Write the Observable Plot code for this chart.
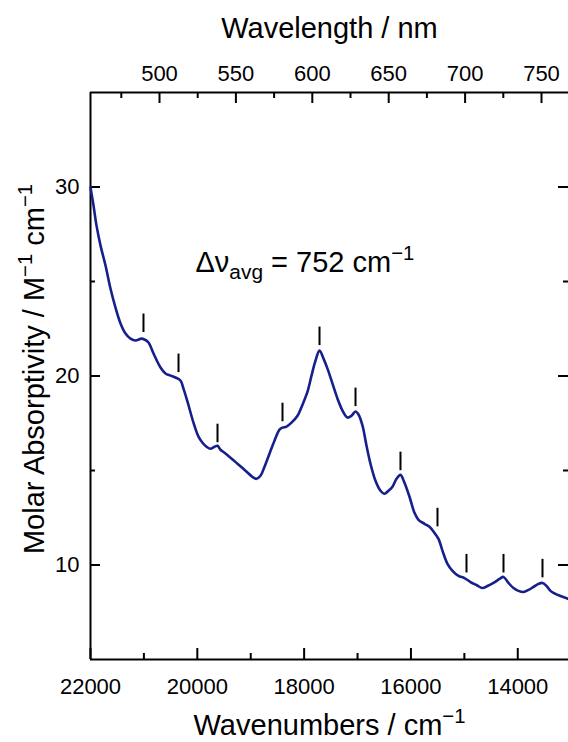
<!DOCTYPE html>
<html>
<head>
<meta charset="utf-8">
<script src="https://cdn.jsdelivr.net/npm/d3@7"></script>
<script src="https://cdn.jsdelivr.net/npm/@observablehq/plot@0.6"></script>
<style>
  body { margin: 0; background: #fff; }
  svg { display: block; }
</style>
</head>
<body>
<div id="chart"></div>
<script>
// ---- Data ----
const wavenumbers = [22000,21944,21888,21813,21719,21626,21532,21438,21345,21251,21157,21045,20989,20914,20820,20689,20596,20502,20409,20315,20259,20184,20072,19978,19903,19828,19753,19678,19622,19566,19491,19379,19248,19098,18948,18892,18817,18742,18649,18555,18461,18405,18330,18237,18124,18031,17937,17862,17787,17712,17637,17563,17469,17375,17282,17188,17113,17038,16982,16907,16832,16758,16664,16570,16495,16421,16346,16271,16196,16121,16027,15934,15859,15747,15653,15560,15484,15409,15316,15222,15110,14998,14885,14773,14661,14567,14455,14342,14267,14174,14080,13987,13893,13799,13706,13612,13537,13462,13387,13294,13200,13106,13050];
const absorptivity = [29.98,29.03,27.97,26.91,25.85,24.63,23.62,22.78,22.25,21.98,21.88,21.98,21.93,21.77,21.19,20.45,20.13,20.02,19.92,19.76,19.33,18.64,17.53,16.79,16.47,16.26,16.15,16.26,16.31,16.10,15.94,15.68,15.36,14.99,14.62,14.56,14.72,15.20,15.89,16.58,17.16,17.27,17.32,17.53,17.90,18.48,19.17,20.02,20.81,21.35,20.92,20.39,19.60,18.80,18.17,17.80,17.90,18.12,17.96,17.37,16.31,15.36,14.46,13.93,13.77,13.93,14.14,14.56,14.77,14.35,13.61,12.76,12.39,12.18,12.02,11.70,11.38,10.75,10.06,9.69,9.42,9.31,9.10,8.94,8.78,8.89,9.05,9.26,9.37,9.05,8.78,8.63,8.57,8.68,8.84,9.00,9.05,8.89,8.63,8.47,8.36,8.26,8.20];

// vibronic progression markers
const peakWavenumbers = [21008,20352,19622,18405,17712,17038,16196,15503,14960,14267,13537];
const peakMarkerBase  = [22.30,20.18,16.47,17.58,21.61,18.38,14.99,12.02,9.58,9.58,9.32];

const xTicksMajor = [22000,20000,18000,16000,14000];
const xTicksMinor = [21000,19000,17000,15000];
const yTicksMajor = [10,20,30];
const yTicksMinor = [15,25];
const nmTicksMajor = [500,550,600,650,700,750];
const nmTicksMinor = [475,525,575,625,675,725];

const xDomain = [22000, 13050];
const yDomain = [5, 35];

// linear wavelength axis as drawn on top of the reference
const nmToWn = nm => 20708 - (nm - 500) * 28.61;
const nmLabel = new Map(nmTicksMajor.map(n => [nmToWn(n), n]));

// ---- Layout ----
const W = 568, H = 742;
const mL = 90, mR = 0, mT = 92, mB = 83;
const plotW = W - mL - mR, plotH = H - mT - mB;
const navy = "#16208c";
const font = "'Liberation Sans', Arial, Helvetica, sans-serif";

const spectrum = wavenumbers.map((w, i) => ({w, a: absorptivity[i]}));
const peaks = peakWavenumbers.map((w, i) => ({w, b: peakMarkerBase[i]}));

const chart = Plot.plot({
  width: W, height: H,
  marginLeft: mL, marginRight: mR, marginTop: mT, marginBottom: mB,
  style: {fontFamily: font, color: "#000", background: "#fff", overflow: "visible"},
  x: {domain: xDomain, axis: null},
  y: {domain: yDomain, axis: null},
  marks: [
    // frame (left, top, bottom)
    Plot.ruleX([xDomain[0]], {stroke: "#000", strokeWidth: 2}),
    Plot.ruleY(yDomain, {stroke: "#000", strokeWidth: 2}),
    // bottom ticks (inward)
    Plot.tickX(xTicksMajor, {x: d => d, insetTop: plotH - 11, stroke: "#000", strokeWidth: 2}),
    Plot.tickX(xTicksMinor, {x: d => d, insetTop: plotH - 6, stroke: "#000", strokeWidth: 2}),
    // top ticks (inward)
    Plot.tickX(nmTicksMajor.map(nmToWn), {x: d => d, insetBottom: plotH - 11, stroke: "#000", strokeWidth: 2}),
    Plot.tickX(nmTicksMinor.map(nmToWn), {x: d => d, insetBottom: plotH - 6, stroke: "#000", strokeWidth: 2}),
    // left ticks
    Plot.tickY(yTicksMajor, {y: d => d, insetRight: plotW - 10, stroke: "#000", strokeWidth: 2}),
    Plot.tickY(yTicksMinor, {y: d => d, insetRight: plotW - 5, stroke: "#000", strokeWidth: 2}),
    // right ticks
    Plot.tickY(yTicksMajor, {y: d => d, insetLeft: plotW - 10, stroke: "#000", strokeWidth: 2}),
    Plot.tickY(yTicksMinor, {y: d => d, insetLeft: plotW - 5, stroke: "#000", strokeWidth: 2}),
    // tick labels
    Plot.axisX(xTicksMajor, {anchor: "bottom", tickSize: 0, tickPadding: 19, fontSize: 22, label: null, tickFormat: d => String(d)}),
    Plot.axisX(nmTicksMajor.map(nmToWn), {anchor: "top", tickSize: 0, tickPadding: 12, fontSize: 22, label: null, tickFormat: d => String(nmLabel.get(d))}),
    Plot.axisY(yTicksMajor, {anchor: "left", tickSize: 0, tickPadding: 11, fontSize: 22, label: null, tickFormat: d => String(d)}),
    // axis titles
    Plot.text(["Wavelength / nm"], {frameAnchor: "top", dy: -55, lineAnchor: "bottom", fontSize: 29, text: d => d}),
    Plot.text(["Wavenumbers / cm^{−1}"], {frameAnchor: "bottom", dy: 75, lineAnchor: "bottom", fontSize: 29, text: d => d}),
    Plot.text(["Molar Absorptivity / M^{−1} cm^{−1}"], {frameAnchor: "left", rotate: -90, textAnchor: "middle", dx: -47, dy: -7, lineAnchor: "bottom", fontSize: 29, text: d => d}),
    // annotation
    Plot.text([{w: 20034, a: 26.0, t: "Δν_{avg} = 752 cm^{−1}"}], {x: "w", y: "a", text: "t", textAnchor: "start", lineAnchor: "middle", fontSize: 29}),
    // spectrum
    Plot.line(spectrum, {x: "w", y: "a", stroke: navy, strokeWidth: 2.6, curve: "catmull-rom"}),
    // progression markers
    Plot.ruleX(peaks, {x: "w", y1: "b", y2: d => d.b + 0.98, stroke: "#000", strokeWidth: 2})
  ]
});

document.getElementById("chart").appendChild(chart);

// convert ^{..} and _{..} markup into real superscript / subscript tspans
chart.querySelectorAll("text").forEach(el => {
  const s = el.textContent;
  if (!/[\^_]\{/.test(s)) return;
  const fs = parseFloat(getComputedStyle(el).fontSize) || 28;
  while (el.firstChild) el.removeChild(el.firstChild);
  const re = /([\^_])\{([^}]*)\}/g;
  let last = 0, m, shift = 0;
  const add = (txt, kind) => {
    if (!txt) return;
    const t = document.createElementNS("http://www.w3.org/2000/svg", "tspan");
    let target = 0, size = null;
    if (kind === "^") { target = -0.4 * fs; size = 0.7 * fs; }
    if (kind === "_") { target = 0.25 * fs; size = 0.72 * fs; }
    const d = target - shift;
    if (d !== 0) t.setAttribute("dy", d);
    shift = target;
    if (size) t.setAttribute("font-size", size);
    t.textContent = txt;
    el.appendChild(t);
  };
  while ((m = re.exec(s))) {
    add(s.slice(last, m.index), null);
    add(m[2], m[1]);
    last = re.lastIndex;
  }
  add(s.slice(last), null);
});
</script>
</body>
</html>
